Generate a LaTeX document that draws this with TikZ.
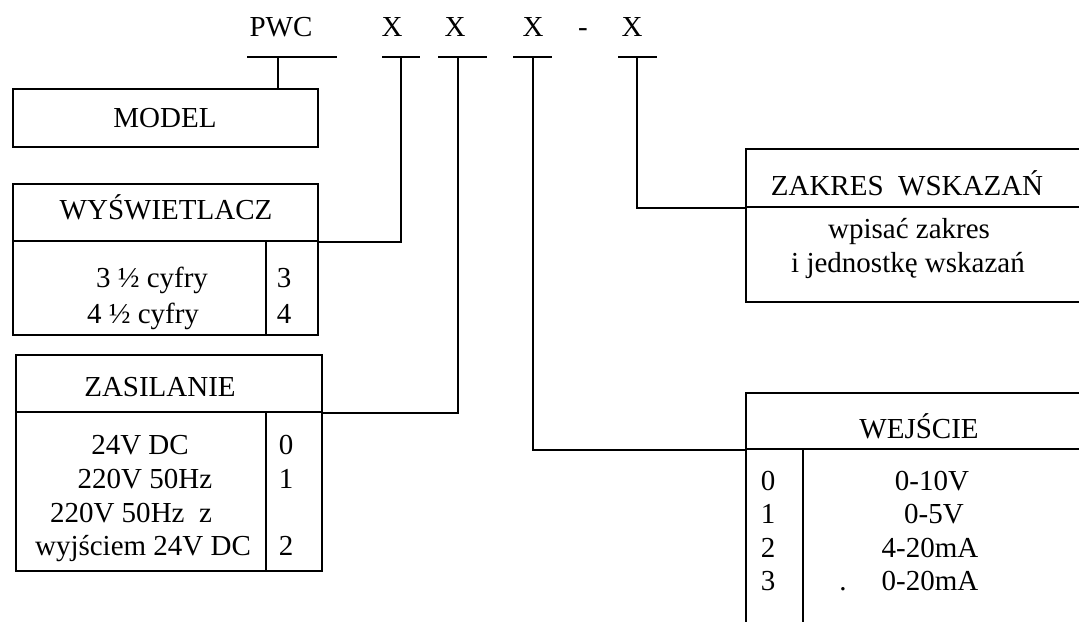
\documentclass[tikz,border=0pt]{standalone}
\usepackage{fontspec}
\setmainfont{Liberation Serif}
\usetikzlibrary{fit}
\begin{document}
\begin{tikzpicture}[x=0.5pt,y=-0.5pt,
  lw/.style={line width=0.9pt},
  box/.style={draw, lw, inner sep=0pt, rectangle},
  txt/.style={anchor=base, inner sep=0pt, font=\fontsize{14.5}{17}\selectfont}]
\useasboundingbox (0,0) rectangle (1079,621);
\clip (0,0) rectangle (1079,621);

% top code
\node[txt] (pwc) at (281,36) {PWC};
\node[txt] (xa) at (392,36) {X};
\node[txt] (xb) at (455,36) {X};
\node[txt] (xc) at (533,36) {X};
\node[txt] (dash) at (583,36) {-};
\node[txt] (xd) at (632,36) {X};

% underlines and junctions
\coordinate (j0) at (278,57);
\coordinate (j1) at (401,57);
\coordinate (j2) at (458,57);
\coordinate (j3) at (533,57);
\coordinate (j4) at (637,57);
\draw[lw] (247,57) -- (337,57);
\draw[lw] (382,57) -- (420,57);
\draw[lw] (438,57) -- (487,57);
\draw[lw] (513,57) -- (552,57);
\draw[lw] (618,57) -- (657,57);

% MODEL
\node[box, fit={(13,89)(318,147)}] (model) {};
\node[txt] (modelt) at (165,127) {MODEL};

% WYSWIETLACZ
\node[box, fit={(13,184)(318,241)}] (wh) {};
\node[box, fit={(13,241)(318,335)}] (wb) {};
\draw[lw] (266,241) -- (266,335);
\node[txt] (wht) at (166,219) {WYŚWIETLACZ};
\node[txt] (w1) at (152,287) {3 ½ cyfry};
\node[txt] (w2) at (143,323) {4 ½ cyfry};
\node[txt] (w1n) at (284,287) {3};
\node[txt] (w2n) at (284,323) {4};

% ZASILANIE
\node[box, fit={(16,355)(322,412)}] (zh) {};
\node[box, fit={(16,412)(322,571)}] (zb) {};
\draw[lw] (266,412) -- (266,571);
\node[txt] (zht) at (160,396) {ZASILANIE};
\node[txt] (z1) at (140,454) {24V DC};
\node[txt] (z2) at (145,488) {220V 50Hz};
\node[txt] (z3) at (131,522) {220V 50Hz\ \ z};
\node[txt] (z4) at (143,555) {wyjściem 24V DC};
\node[txt] (z1n) at (286,454) {0};
\node[txt] (z2n) at (286,488) {1};
\node[txt] (z4n) at (286,555) {2};

% ZAKRES WSKAZAN
\node[box, fit={(746,149)(1095,207)}] (kh) {};
\node[box, fit={(746,207)(1095,302)}] (kb) {};
\node[txt] (kht) at (907,195) {ZAKRES\ \ WSKAZAŃ};
\node[txt] (k1) at (909,238) {wpisać zakres};
\node[txt] (k2) at (908,272) {i jednostkę wskazań};

% WEJSCIE
\node[box, fit={(746,393)(1095,449)}] (jh) {};
\node[box, fit={(746,449)(1095,660)}] (jb) {};
\draw[lw] (803,449) -- (803,660);
\node[txt] (jht) at (919,438) {WEJŚCIE};
\node[txt] (j0n) at (768,490) {0};
\node[txt] (j1n) at (768,523) {1};
\node[txt] (j2n) at (768,557) {2};
\node[txt] (j3n) at (768,590) {3};
\node[txt] (j0t) at (932,490) {0-10V};
\node[txt] (j1t) at (934,523) {0-5V};
\node[txt] (j2t) at (930,557) {4-20mA};
\node[txt] (j3t) at (930,590) {0-20mA};
\node[txt] (dot) at (843,590) {.};

% connectors
\draw[lw] (j0) -- (j0 |- model.north);
\draw[lw] (j1) |- (wh.south east);
\draw[lw] (j2) |- (zh.south east);
\draw[lw] (j3) |- (jh.south west);
\draw[lw] (j4) |- (kh.south west);
\end{tikzpicture}
\end{document}
